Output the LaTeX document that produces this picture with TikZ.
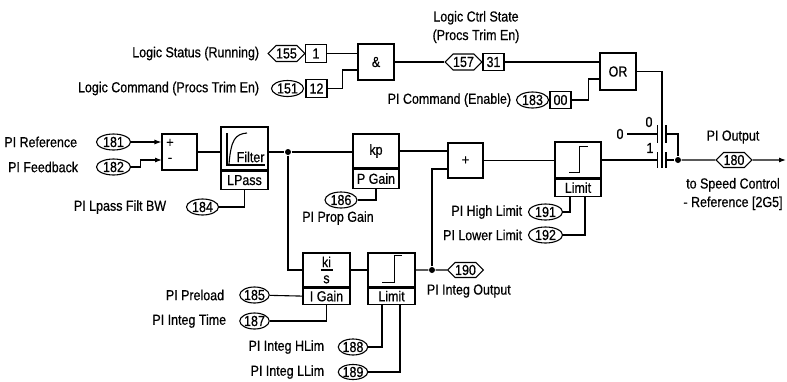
\documentclass[tikz,border=0pt]{standalone}
\usepackage{fontspec}
\setmainfont{Liberation Sans}[FakeStretch=0.86, FakeBold=0.6]
\usetikzlibrary{shapes.geometric,shapes.symbols,arrows.meta}

\begin{document}
\begin{tikzpicture}[x=1pt, y=-1pt, line width=1.1pt,
    font=\fontsize{14.5}{18.5}\selectfont,
    blk/.style={draw, inner sep=0pt},
    parm/.style={draw, ellipse, minimum width=32pt, minimum height=16pt, inner sep=0pt},
    tag/.style={draw, signal, signal to=west and east, minimum width=35pt, minimum height=16pt, inner sep=0pt},
    bit/.style={draw, minimum width=21pt, minimum height=18pt, inner sep=0pt},
    dot/.style={circle, fill, inner sep=0pt, minimum size=6pt},
    arr/.style={-{Latex[length=7pt,width=5pt]}}]
    \useasboundingbox (0,0) rectangle (787,381);

    % logic section
    \node[anchor=east] (lstat) at (263,53.5) {Logic Status (Running)};
    \node[tag] (t155) at (286.5,53.5) {155};
    \node[bit] (b1) at (316,53.5) {1};
    \node[anchor=east] (lcmd) at (263,88.5) {Logic Command (Procs Trim En)};
    \node[parm] (t151) at (287.5,88.5) {151};
    \node[bit] (b12) at (316.5,88.5) {12};
    \node[blk, minimum width=36pt, minimum height=36pt] (and) at (376,62) {\&};
    \node[align=center] (lcs) at (476,27) {Logic Ctrl State\\(Procs Trim En)};
    \node[tag] (t157) at (463.5,62) {157};
    \node[bit, minimum height=17pt] (b31) at (493.5,62) {31};
    \node[blk, minimum width=36pt, minimum height=37pt] (or) at (618,71.5) {OR};
    \node[anchor=east] (picmd) at (515,100) {PI Command (Enable)};
    \node[parm] (t183) at (532.5,100) {183};
    \node[bit, minimum height=17pt] (b00) at (560.5,100) {00};
    \coordinate (andin) at (358,70);
    \coordinate (orin) at (600,79);

    \draw (b1.east) -- (b1.east -| and.west);
    \draw (b12.east) -- ++(15,0) |- (andin);
    \draw (and.east) -- (t157.west);
    \draw (b31.east) -- (b31.east -| or.west);
    \draw (b00.east) -- ++(17,0) |- (orin);

    % PI input and filter
    \node[anchor=east] (lref) at (81,142) {PI Reference};
    \node[anchor=east] (lfb) at (82,167) {PI Feedback};
    \node[parm, minimum width=34pt] (t181) at (113.5,142) {181};
    \node[parm, minimum width=34pt] (t182) at (113.5,167) {182};
    \node[blk, minimum width=35pt, minimum height=36pt] (sum1) at (179.5,152) {};
    \node (s1p) at (170,143) {+};
    \node (s1m) at (170,160) {-};
    \coordinate (s1in) at (162,160);
    \draw[arr] (t181) -- (t181 -| sum1.west);
    \draw[arr] (t182.east) -- ++(9,0) |- (s1in);

    \node[blk, minimum width=47pt, minimum height=43pt] (filt) at (244.5,148.5) {};
    \node[blk, minimum width=47pt, minimum height=18pt, anchor=north] (lpass) at (filt.south) {LPass};
    \node[anchor=east, inner sep=1pt] (ftxt) at (266,157) {Filter};
    \draw (227,133) -- (227,165) -- (265,165);
    \draw (229,164) .. controls (231,140) and (235,134) .. (247,133);
    \draw (sum1.east) -- (sum1.east -| filt.west);
    \node[anchor=east] (llp) at (170,207) {PI Lpass Filt BW};
    \node[parm] (t184) at (202.5,207) {184};
    \draw (t184.east) -| (lpass.south);
    \node[dot] (d1) at (288,152) {};
    \draw (d1 -| filt.east) -- (d1);

    % proportional path
    \node[blk, minimum width=46pt, minimum height=34pt] (kp) at (376,151) {kp};
    \node[blk, minimum width=46pt, minimum height=19pt, anchor=north] (pgain) at (kp.south) {P Gain};
    \draw (d1) -- (d1 -| kp.west);
    \node[parm] (t186) at (341,200) {186};
    \node (lpg) at (338,218) {PI Prop Gain};
    \draw (t186.east) -| (pgain.south);
    \node[blk, minimum width=35pt, minimum height=35pt] (sum2) at (465.5,160.5) {+};
    \coordinate (s2in) at (448,169);
    \draw (kp.east) -- (kp.east -| sum2.west);

    % output limit
    \node[blk, minimum width=46pt, minimum height=36pt] (lim) at (578,160) {};
    \node[blk, minimum width=46pt, minimum height=17pt, anchor=north] (limt) at (lim.south) {Limit};
    \draw ([shift={(15,31)}]lim.north west) -- ++(10,0) -- ++(0,-26) -- ++(9,0);
    \draw (sum2.east) -- (sum2.east -| lim.west);
    \node[anchor=east] (lhl) at (526,212) {PI High Limit};
    \node[anchor=east] (lll) at (526,235) {PI Lower Limit};
    \node[parm, minimum width=34pt] (t191) at (545.5,212) {191};
    \node[parm, minimum width=34pt] (t192) at (545.5,235) {192};
    \draw (t191.east) -| ([xshift=-8pt]limt.south);
    \draw (t192.east) -| ([xshift=7pt]limt.south);

    % enable switch
    \node (in0) at (620,134) {0};
    \node (c0) at (649,122) {0};
    \node (c1) at (650,148) {1};
    \coordinate (sw0) at (657.5,134);
    \coordinate (sw1) at (657.5,160);
    \coordinate (so0) at (666,134);
    \coordinate (so1) at (666,160);
    \coordinate (swbot) at (662,168);
    \draw (657.5,125) -- (657.5,143) (666,125) -- (666,143);
    \draw (657.5,152) -- (657.5,168) (666,152) -- (666,168);
    \draw (or.east) -| (swbot);
    \draw (in0) -- (sw0);
    \draw (lim.east) -- (sw1);
    \node[dot] (d3) at (678,160) {};
    \draw (so0) -| (d3);
    \draw (so1) -- (d3);
    \node[tag, minimum height=15pt] (t180) at (734,160) {180};
    \coordinate (outend) at (786,160);
    \draw (d3) -- (t180);
    \draw[arr] (t180) -- (outend);
    \node (lpo) at (733,137) {PI Output};
    \node[align=center] (lsc) at (733,194) {to Speed Control\\- Reference [2G5]};

    % integral path
    \node[blk, minimum width=47pt, minimum height=34pt, align=center, font=\fontsize{14.5}{16}\selectfont] (ki) at (326.5,270) {ki\\s};
    \draw ([xshift=-6pt]ki.center) -- ([xshift=6pt]ki.center);
    \node[blk, minimum width=47pt, minimum height=16pt, anchor=north] (igain) at (ki.south) {I Gain};
    \draw (d1) |- (ki.west);
    \node[anchor=east] (lpre) at (228,295) {PI Preload};
    \node[anchor=east] (lit) at (230,321) {PI Integ Time};
    \node[parm, minimum width=29pt] (t185) at (254.5,295) {185};
    \node[parm, minimum width=29pt] (t187) at (254.5,321) {187};
    \draw (t185) -- (igain.west);
    \draw (t187.east) -| (igain.south);
    \node[blk, minimum width=47pt, minimum height=34pt] (lim2) at (391.5,270) {};
    \node[blk, minimum width=47pt, minimum height=16pt, anchor=north] (lim2t) at (lim2.south) {Limit};
    \draw ([shift={(15,30)}]lim2.north west) -- ++(12,0) -- ++(0,-27) -- ++(8,0);
    \draw (ki) -- (lim2);
    \node[dot] (d2) at (432,270) {};
    \node[tag, minimum height=15pt] (t190) at (465.5,270) {190};
    \draw (lim2) -- (d2) -- (t190);
    \draw (d2) |- (s2in);
    \node[anchor=west] (lio) at (423,291) {PI Integ Output};
    \node[anchor=east] (lih) at (328,347) {PI Integ HLim};
    \node[anchor=east] (lil) at (328,372) {PI Integ LLim};
    \node[parm, minimum width=29pt] (t188) at (353,347) {188};
    \node[parm, minimum width=29pt, minimum height=15pt] (t189) at (353,372) {189};
    \draw (t188.east) -| ([xshift=-9.5pt]lim2t.south);
    \draw (t189.east) -| ([xshift=8.5pt]lim2t.south);
\end{tikzpicture}
\end{document}
